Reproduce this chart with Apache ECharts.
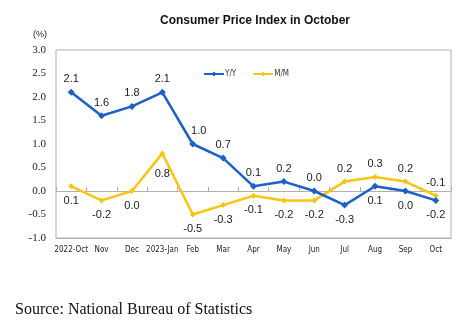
<!DOCTYPE html>
<html><head><meta charset="utf-8">
<script src="https://cdn.jsdelivr.net/npm/echarts@6/dist/echarts.min.js"></script>
<style>html,body{margin:0;padding:0;background:#fff}#c{width:467px;height:328px}</style>
</head><body><div id="c"></div>
<script>
const categories = ['2022-Oct','Nov','Dec','2023-Jan','Feb','Mar','Apr','May','Jun','Jul','Aug','Sep','Oct'];
const yoy = [2.1,1.6,1.8,2.1,1.0,0.7,0.1,0.2,0.0,-0.3,0.1,0.0,-0.2];
const mom = [0.1,-0.2,0.0,0.8,-0.5,-0.3,-0.1,-0.2,-0.2,0.2,0.3,0.2,-0.1];
const yTicks = [-1.0,-0.5,0.0,0.5,1.0,1.5,2.0,2.5,3.0];
// label placement (style only)
const yoyBelow = [9,10,11,12];
const momAbove = [9,10,11,12];

const chart = echarts.init(document.getElementById('c'));
const lblFont = {fontFamily:'Liberation Sans, Arial, sans-serif', fontSize:11, color:'#222'};
function mk(vals, belowSet, invert){
  return vals.map((v,i)=>{
    const below = invert ? !belowSet.includes(i) : belowSet.includes(i);
    const lab = {position: below?'bottom':'top', distance: below?6:4};
    if (!invert && i===4) lab.offset=[6,0];
    if (invert && i===3) lab.distance=12;
    return {value:v, label:lab};
  });
}
chart.setOption({
  animation:false,
  title:{text:'Consumer Price Index in October', left:250, textAlign:'center', top:10,
    textStyle:{fontFamily:'Liberation Sans, Arial, sans-serif', fontSize:12, fontWeight:'bold', color:'#111'}},
  legend:{top:65, left:198, itemWidth:20, itemHeight:6, itemGap:16,
    textStyle:{fontFamily:'Liberation Sans Narrow, DejaVu Sans Condensed, Arial, sans-serif', fontSize:8, color:'#333', padding:[0,0,0,-4]},
    data:['Y/Y','M/M']},
  graphic:[
    {type:'text', left:33, top:30, style:{text:'(%)', font:'9px Liberation Sans, Arial, sans-serif', fill:'#222'}},
    {type:'text', left:15, top:302, style:{text:'Source: National Bureau of Statistics', font:'16px Liberation Serif, Times New Roman, serif', fill:'#111'}}
  ],
  grid:{left:56, right:16, top:50, bottom:90, show:true, borderColor:'#b0b0b0', borderWidth:1},
  xAxis:[
    {type:'category', data:categories, boundaryGap:true, position:'bottom',
     axisLine:{onZero:false, lineStyle:{color:'#b0b0b0'}}, axisTick:{show:false},
     axisLabel:{interval:0, margin:8, fontFamily:'Liberation Sans Narrow, DejaVu Sans Condensed, Arial, sans-serif', fontSize:8, color:'#222'}},
    {type:'category', data:categories, boundaryGap:true, position:'bottom',
     axisLine:{onZero:true, lineStyle:{color:'#b0b0b0'}}, axisTick:{show:true, interval:0, inside:true, length:4, lineStyle:{color:'#b0b0b0'}},
     axisLabel:{show:false}}
  ],
  yAxis:{type:'value', min:-1, max:3, interval:0.5, splitLine:{show:false},
    axisLine:{show:false}, axisTick:{show:false},
    axisLabel:{margin:10, formatter:v=>v.toFixed(1), fontFamily:'Liberation Serif, Times New Roman, serif', fontSize:11, color:'#222'}},
  series:[
    {name:'Y/Y', type:'line', data:mk(yoy, yoyBelow, false), color:'#1f5fc8',
     lineStyle:{width:2.5, color:'#1f5fc8'}, symbol:'diamond', symbolSize:7, itemStyle:{color:'#1f5fc8'},
     label:{show:true, formatter:p=>p.value.toFixed(1), ...lblFont}, z:3},
    {name:'M/M', type:'line', data:mk(mom, momAbove, true), color:'#f7c512',
     lineStyle:{width:2.5, color:'#f7c512'}, symbol:'diamond', symbolSize:6, itemStyle:{color:'#f7c512'},
     label:{show:true, formatter:p=>p.value.toFixed(1), ...lblFont}, z:2}
  ]
});
</script></body></html>
